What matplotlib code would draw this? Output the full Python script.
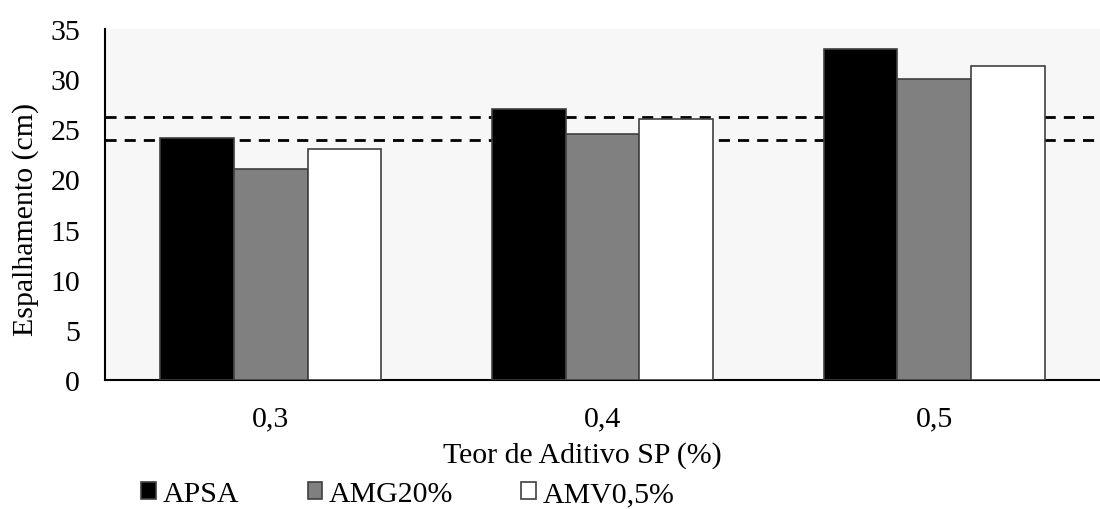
import numpy as np
import matplotlib.pyplot as plt

plt.rcParams['font.family'] = ['Liberation Serif', 'DejaVu Serif']

# Données
teores = ['0,3', '0,4', '0,5']
series = ['APSA', 'AMG20%', 'AMV0,5%']
apsa = [24.1, 27.0, 33.0]
amg20 = [21.0, 24.5, 30.0]
amv05 = [23.0, 26.0, 31.3]
limites = [23.9, 26.25]

valeurs = [apsa, amg20, amv05]
couleurs = ['#000000', '#808080', '#ffffff']
fs = 21.5

fig = plt.figure(figsize=(11, 5.1), dpi=100)
ax = fig.add_axes([0.0955, 0.253, 0.9045, 0.688])
ax.set_facecolor('#f7f7f7')

x = np.arange(len(teores))
largeur = 1 / 4.5
for i, (nom, vals) in enumerate(zip(series, valeurs)):
    ax.bar(x + (i - 1) * largeur, vals, width=largeur, color=couleurs[i],
           edgecolor='#404040', linewidth=1.2, label=nom, zorder=3)

# Limites (lignes pointillées)
for lim in limites:
    ax.axhline(lim, color='black', linewidth=2, dashes=(4, 2.9), zorder=2)

ax.set_xlim(-0.5, 2.5)
ax.set_ylim(0, 35)
ax.set_yticks(range(0, 36, 5))
ax.set_xticks(x)
ax.set_xticklabels(teores)
ax.tick_params(axis='both', length=0, labelsize=fs, colors='black')
ax.tick_params(axis='y', pad=18)
ax.tick_params(axis='x', pad=18)

for s in ['top', 'right']:
    ax.spines[s].set_visible(False)
ax.spines['left'].set_linewidth(1.5)
ax.spines['bottom'].set_linewidth(1.5)

ax.set_xlabel('Teor de Aditivo SP (%)', fontsize=fs)
ax.set_ylabel('Espalhamento (cm)', fontsize=fs)
ax.xaxis.set_label_coords(0.48, -0.213)
ax.yaxis.set_label_coords(-0.08, 0.46)
ax.xaxis.label.set_va('center')
ax.yaxis.label.set_va('center')

fig.legend(loc='center left', bbox_to_anchor=(0.115, 0.029), ncol=3,
           frameon=False, fontsize=fs, handlelength=0.5, handleheight=0.5,
           handletextpad=0.2, columnspacing=2.3, borderpad=0)

plt.savefig('out.png', dpi=100)
